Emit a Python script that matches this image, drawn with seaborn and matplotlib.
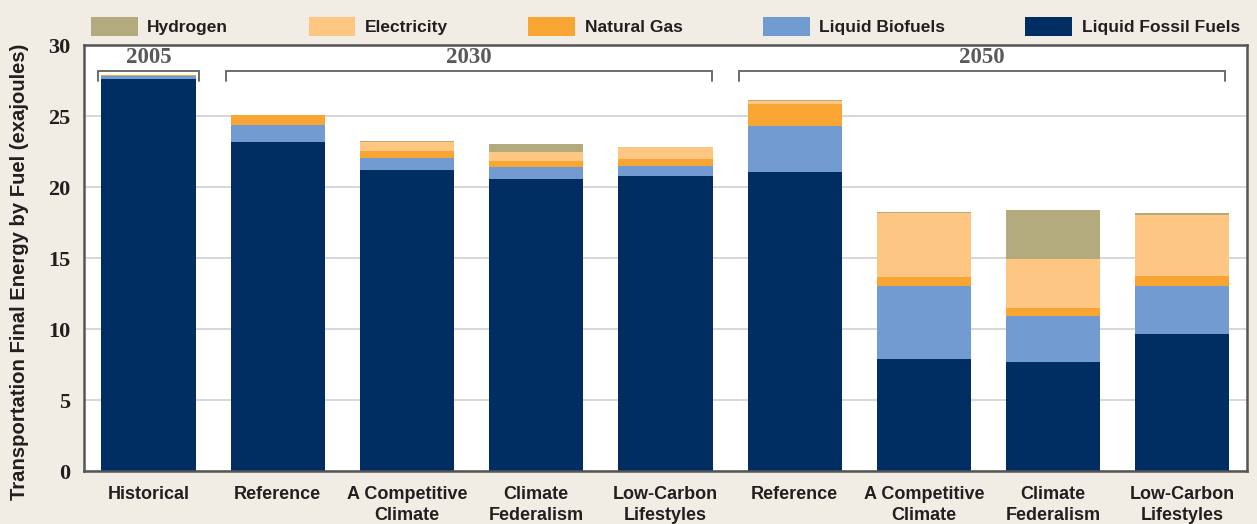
""" Transportation final energy by fuel, stacked bars per scenario """

import matplotlib
matplotlib.use("Agg")
import matplotlib.pyplot as plt
import pandas as pd
import seaborn as sns
from matplotlib.patches import Patch
from matplotlib.transforms import ScaledTranslation

# data (exajoules)
scenarios = ["Historical",
             "Reference 2030", "Competitive 2030", "Federalism 2030", "LowCarbon 2030",
             "Reference 2050", "Competitive 2050", "Federalism 2050", "LowCarbon 2050"]
tick_labels = ["Historical", "Reference", "A Competitive\nClimate", "Climate\nFederalism",
               "Low-Carbon\nLifestyles", "Reference", "A Competitive\nClimate",
               "Climate\nFederalism", "Low-Carbon\nLifestyles"]
fossil = [27.6, 23.2, 21.2, 20.6, 20.8, 21.05, 7.9, 7.7, 9.65]
biofuel = [0.2, 1.2, 0.85, 0.8, 0.7, 3.25, 5.1, 3.2, 3.4]
natural_gas = [0.1, 0.65, 0.5, 0.47, 0.5, 1.55, 0.7, 0.57, 0.7]
electricity = [0.0, 0.05, 0.65, 0.57, 0.85, 0.22, 4.5, 3.45, 4.3]
hydrogen = [0.0, 0.0, 0.07, 0.57, 0.0, 0.07, 0.07, 3.45, 0.09]
fuels = ["Hydrogen", "Electricity", "Natural Gas", "Liquid Biofuels", "Liquid Fossil Fuels"]
fuel_colors = ["#b3aa7e", "#fdc783", "#f9a533", "#729bd1", "#002d62"]
periods = ["2005", "2030", "2050"]
period_spans = [(-0.39, 0.39), (0.6, 4.36), (4.57, 8.33)]

df = pd.DataFrame({"scenario": scenarios, "fossil": fossil, "biofuel": biofuel,
                   "gas": natural_gas, "elec": electricity, "h2": hydrogen})
# cumulative tops, bottom layer first
df["c_fossil"] = df["fossil"]
df["c_bio"] = df["c_fossil"] + df["biofuel"]
df["c_gas"] = df["c_bio"] + df["gas"]
df["c_elec"] = df["c_gas"] + df["elec"]
df["c_h2"] = df["c_elec"] + df["h2"]

sns.set_style("white")
plt.rcParams["font.family"] = ["Liberation Sans", "DejaVu Sans"]

bg = "#f1ede5"
ink = "#231f20"
fig = plt.figure(figsize=(12.57, 5.24), dpi=100, facecolor=bg)
ax = fig.add_axes([0.0668, 0.101, 0.9252, 0.813])
ax.set_facecolor("white")
ax.set_axisbelow(True)
ax.yaxis.grid(True, color="#d4d4d4", linewidth=1.3)

# draw layers from the tallest cumulative total down so each covers the one below
for col, color in zip(["c_h2", "c_elec", "c_gas", "c_bio", "c_fossil"], fuel_colors):
    sns.barplot(data=df, x="scenario", y=col, order=scenarios, color=color,
                saturation=1, width=0.73, linewidth=0, ax=ax)

ax.set_xlim(-0.5, 8.5)
ax.set_ylim(0, 30)
ax.set_yticks(range(0, 31, 5))
ax.set_xlabel("")
ax.set_ylabel("Transportation Final Energy by Fuel (exajoules)", fontsize=14.6,
              fontweight="bold", color=ink)
ax.yaxis.set_label_coords(-0.047, 0.467)
ax.set_xticks(range(len(scenarios)))
ax.set_xticklabels(tick_labels)
for lab in ax.get_xticklabels():
    lab.set_fontsize(13)
    lab.set_fontweight("bold")
    lab.set_color(ink)
    lab.set_linespacing(1.3)
for lab in ax.get_yticklabels():
    lab.set_family(["Liberation Serif", "DejaVu Serif"])
    lab.set_fontsize(16)
    lab.set_fontweight("bold")
    lab.set_color(ink)
    lab.set_transform(lab.get_transform() + ScaledTranslation(0, -7 / 72, fig.dpi_scale_trans))
ax.tick_params(axis="y", length=0, pad=10)
ax.tick_params(axis="x", length=0, pad=11)

for side in ["left", "right", "top", "bottom"]:
    ax.spines[side].set_visible(True)
    ax.spines[side].set_color("#555555")
    ax.spines[side].set_linewidth(1.8)

# period brackets and labels
for name, (x0, x1) in zip(periods, period_spans):
    ax.plot([x0, x0, x1, x1], [27.5, 28.2, 28.2, 27.5], color="#6d6d6d",
            linewidth=1.4, clip_on=False, solid_joinstyle="miter")
    ax.text((x0 + x1) / 2, 28.35, name, ha="center", va="bottom", fontsize=16.5,
            fontweight="bold", color="#5a5a5a", family=["Liberation Serif", "DejaVu Serif"])

handles = [Patch(facecolor=c, edgecolor="none", label=f) for f, c in zip(fuels, fuel_colors)]
leg = ax.legend(handles=handles, ncol=5, loc="lower left", mode="expand",
                bbox_to_anchor=(0, 1.005, 1.0, 0.1), frameon=False,
                handlelength=2.7, handleheight=1.3, handletextpad=0.55,
                borderaxespad=0, prop={"size": 12.5, "weight": "bold"})
for t in leg.get_texts():
    t.set_color(ink)

fig.savefig("out.png", dpi=100, facecolor=bg)
